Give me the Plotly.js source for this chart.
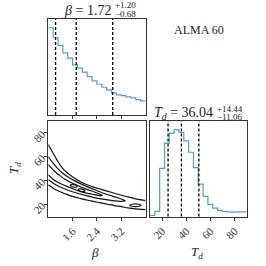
<!DOCTYPE html>
<html>
<head>
<meta charset="utf-8">
<script src="https://cdn.plot.ly/plotly-3.0.1.min.js"></script>
<style>html,body{margin:0;padding:0;background:#fff;}#plot{width:266px;height:266px;}</style>
</head>
<body>
<div id="plot"></div>
<script>
// ---- data ----
const betaEdges = [0.80,0.96,1.12,1.28,1.44,1.60,1.76,1.92,2.08,2.24,2.40,2.56,2.72,2.88,3.04,3.20,3.36,3.52,3.68,3.84,4.00];
const betaCounts = [261,231,208,186,170,150,140,128,115,102,92,83,75,66,60,58,54,51,46,42];
const tdEdges = [10,14,18,22,26,30,34,38,42,46,50,54,58,62,66,70,74,78,82,86,90];
const tdCounts = [3,15,143,218,248,258,250,225,191,145,96,60,36,25,18,15,14,13,14,14];
const betaQuantiles = [1.04, 1.72, 2.92];
const tdQuantiles = [24.98, 36.04, 50.48];
const betaTicks = [1.6, 2.4, 3.2];
const tdTicks = [20, 40, 60, 80];

// contour level 1 (outermost): upper and lower branches
const c1Beta = [0.800,0.878,0.966,1.099,1.265,1.431,1.653,1.874,2.096,2.317,2.538,2.760,2.981,3.203,3.424,3.646,3.867,4.000,null,
                0.800,0.988,1.210,1.431,1.653,1.874,2.096,2.317,2.538,2.760,2.981,3.203,3.424,3.646,4.000];
const c1Td   = [70.28,66.67,62.78,56.67,50.56,46.39,42.22,38.89,36.39,34.44,32.78,31.11,29.44,27.78,26.39,25.00,23.89,23.33,null,
                36.67,33.33,30.56,28.33,26.39,25.00,23.61,22.50,21.39,20.28,19.17,18.33,17.22,16.39,15.83];
// contour level 2
const c2Beta = [0.800,0.933,1.099,1.265,1.487,1.708,1.929,2.151,2.372,2.594,2.815,3.037,3.225,3.336,
                3.225,2.981,2.760,2.538,2.317,2.096,1.874,1.653,1.431,1.210,0.988,0.800];
const c2Td   = [60.28,55.56,50.56,46.39,42.50,39.44,36.67,34.17,31.94,29.72,27.78,26.11,24.44,23.33,
                22.78,23.06,23.89,24.72,25.83,27.22,28.61,30.28,32.22,34.44,37.50,40.83];
// contour level 3
const c3Beta = [0.800,0.988,1.210,1.431,1.653,1.874,2.096,2.317,2.483,2.583,
                2.483,2.317,2.096,1.874,1.653,1.431,1.210,0.988,0.800];
const c3Td   = [53.33,48.33,43.61,40.00,37.22,34.72,32.50,30.56,28.89,27.78,
                27.50,28.33,29.44,30.83,32.78,35.00,37.50,40.56,45.00];
// contour level 4 (innermost islands)
const c4Beta = [1.520,1.586,1.708,1.752,1.686,1.564,1.520,null,
                1.785,1.852,1.962,2.007,1.940,1.830,1.785,null,
                3.480,3.557,3.779,3.856,3.779,3.557,3.480];
const c4Td   = [36.11,36.94,36.11,35.00,34.44,35.28,36.11,null,
                32.50,33.06,32.50,31.39,30.83,31.39,32.50,null,
                19.44,20.28,20.28,19.44,18.61,18.61,19.44];

// ---- helpers ----
const W = 266;
const fx = p => p / W;
const fy = p => 1 - p / W;
const lastRep = a => a.concat([a[a.length - 1]]);
const serif = "Liberation Serif, Times New Roman, serif";
const blue = "#5b9bd5";
const frame = "#333333";

const traces = [
  {x: betaEdges, y: lastRep(betaCounts), xaxis: 'x', yaxis: 'y', mode: 'lines',
   line: {shape: 'hv', color: blue, width: 1.2}, hoverinfo: 'skip'},
  {x: tdEdges, y: lastRep(tdCounts), xaxis: 'x3', yaxis: 'y3', mode: 'lines',
   line: {shape: 'hv', color: blue, width: 1.2}, hoverinfo: 'skip'}
];
[[c1Beta, c1Td], [c2Beta, c2Td], [c3Beta, c3Td], [c4Beta, c4Td]].forEach(c => {
  traces.push({x: c[0], y: c[1], xaxis: 'x2', yaxis: 'y2', mode: 'lines', connectgaps: false,
    line: {color: '#111', width: 1.2, shape: 'spline', smoothing: 0.6}, hoverinfo: 'skip'});
});

const axBase = {showline: true, mirror: true, linecolor: frame, linewidth: 1, showgrid: false,
  zeroline: false, ticks: 'outside', ticklen: 3, tickwidth: 1, tickcolor: frame,
  tickfont: {family: serif, size: 11, color: '#333'}};

const colL = [fx(48.3), fx(145.5)];
const colR = [fx(150), fx(246.5)];
const rowT = [fy(115), fy(19)];
const rowB = [fy(216.5), fy(121)];

const shapes = [];
betaQuantiles.forEach(v => shapes.push({type: 'line', xref: 'x', yref: 'y domain', x0: v, x1: v, y0: 0, y1: 1,
  line: {color: '#000', width: 1.3, dash: '3px,2px'}}));
tdQuantiles.forEach(v => shapes.push({type: 'line', xref: 'x3', yref: 'y3 domain', x0: v, x1: v, y0: 0, y1: 1,
  line: {color: '#000', width: 1.3, dash: '3px,2px'}}));

const txt = (text, x, y, size, xanchor, extra) => Object.assign({text: text, xref: 'paper', yref: 'paper',
  x: fx(x), y: fy(y), xanchor: xanchor, yanchor: 'middle', showarrow: false, borderpad: 0,
  font: {family: serif, size: size, color: '#222'}}, extra || {});

const annotations = [
  txt('<i>β</i> = 1.72', 112, 10, 14, 'right'),
  txt('+1.20', 114, 5.5, 9, 'left'),
  txt('−0.68', 114, 14, 9, 'left'),
  txt('<i>T<sub>d</sub></i> = 36.04', 214, 113, 14, 'right'),
  txt('+14.44', 216, 108.5, 9, 'left'),
  txt('−11.06', 216, 117, 9, 'left'),
  txt('ALMA 60', 199, 30, 12, 'center'),
  txt('<i>β</i>', 95, 252, 13, 'center'),
  txt('<i>T<sub>d</sub></i>', 197, 252, 13, 'center'),
  txt('<i>T<sub>d</sub></i>', 14, 168, 13, 'center', {textangle: -90})
];

const layout = {
  width: 266, height: 266, margin: {l: 0, r: 0, t: 0, b: 0}, showlegend: false,
  paper_bgcolor: '#fff', plot_bgcolor: '#fff',
  xaxis: Object.assign({}, axBase, {domain: colL, range: [0.8, 4.0], tickvals: betaTicks, showticklabels: false, anchor: 'y'}),
  yaxis: Object.assign({}, axBase, {domain: rowT, range: [0, 1.1 * Math.max(...betaCounts)], ticks: '', showticklabels: false, anchor: 'x'}),
  xaxis2: Object.assign({}, axBase, {domain: colL, range: [0.8, 4.0], tickvals: betaTicks, ticktext: betaTicks.map(v => v.toFixed(1)), tickangle: -45, anchor: 'y2'}),
  yaxis2: Object.assign({}, axBase, {domain: rowB, range: [10, 90], tickvals: tdTicks, tickangle: -45, anchor: 'x2'}),
  xaxis3: Object.assign({}, axBase, {domain: colR, range: [10, 90], tickvals: tdTicks, tickangle: -45, anchor: 'y3'}),
  yaxis3: Object.assign({}, axBase, {domain: rowB, range: [0, 1.1 * Math.max(...tdCounts)], ticks: '', showticklabels: false, anchor: 'x3'}),
  shapes: shapes,
  annotations: annotations
};

Plotly.newPlot('plot', traces, layout, {staticPlot: true, displayModeBar: false});
</script>
</body>
</html>
